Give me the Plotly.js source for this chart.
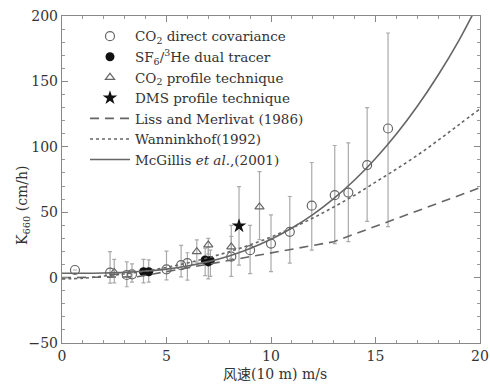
<!DOCTYPE html>
<html>
<head>
<meta charset="utf-8">
<script src="https://cdn.plot.ly/plotly-3.0.1.min.js"></script>
<style>html,body{margin:0;padding:0;background:#fff;}#chart{width:490px;height:385px;}</style>
</head>
<body>
<div id="chart"></div>
<script>
// CO2 direct covariance (open circles)
var covU    = [0.62, 2.3, 3.1, 3.35, 5.0, 5.7, 6.0, 8.1, 9.0, 10.0, 10.9, 11.95, 13.05, 13.7, 14.6, 15.6];
var covK    = [5.8, 3.8, 2.0, 2.5, 6.3, 9.6, 11, 16, 21, 26, 35, 55, 63, 65, 86, 114];
var covErrP = [0, 16, 10, 8, 14, 15, 8, 24, 19, 22, 27, 33, 38, 38, 44, 73];
var covErrM = [0, 8, 9, 6, 8, 9, 13, 15, 18, 21.5, 24, 34, 37, 37.5, 43, 75];
// SF6/3He dual tracer (filled circles)
var sfU    = [3.9, 4.15, 6.85, 7.0, 7.1];
var sfK    = [4.5, 4.5, 13.5, 12, 13];
var sfErrP = [9.5, 9, 9, 11, 8];
var sfErrM = [8.5, 8, 12, 13, 12];
// CO2 profile technique (open triangles)
var profU    = [2.5, 6.45, 7.0, 8.1, 9.45];
var profK    = [4, 19.8, 25, 23.5, 54];
var profErrP = [10, 9, 5, 8, 27];
var profErrM = [8, 8, 7, 9, 25];
// DMS profile technique (star)
var dmsU    = [8.47];
var dmsK    = [39.5];
var dmsErrP = [30];
var dmsErrM = [30];
// Liss and Merlivat (1986) (dashed)
var lmU = [0, 3.6, 13, 20];
var lmK = [0, 0.6, 27.4, 68.7];
// Wanninkhof (1992) (dotted)
var wU = [0, 1, 2, 3, 4, 5, 6, 7, 8, 9, 10, 11, 12, 13, 14, 15, 16, 17, 18, 19, 20];
var wK = [-1, -0.5, 1.2, 2.8, 5, 7.8, 11.2, 15.2, 19.8, 25.1, 31, 38, 45.5, 54, 63, 73, 83, 93.5, 105, 117, 129];
// McGillis et al. (2001) (solid)
var mU = [0, 1, 2, 3, 4, 5, 6, 7, 8, 9, 10, 11, 12, 13, 14, 15, 16, 17, 18, 19, 19.9];
var mK = [3.3, 3.3, 3.5, 4.0, 5.0, 6.5, 8.9, 12.2, 16.6, 22.3, 29.3, 37.9, 48.2, 60.4, 74.6, 91.1, 109.8, 131.0, 154.9, 181.6, 209];

var serif = 'DejaVu Serif';
var gray = '#666';
var ebar = function (p, m) {
  return {type: 'data', array: p, arrayminus: m, symmetric: false, color: '#aaa', thickness: 1.2, width: 2};
};

var traces = [
  {x: covU, y: covK, type: 'scatter', mode: 'markers', name: 'CO<sub>2</sub> direct covariance',
   marker: {symbol: 'circle-open', size: 9, color: gray, line: {width: 1.2, color: gray}},
   error_y: ebar(covErrP, covErrM)},
  {x: sfU, y: sfK, type: 'scatter', mode: 'markers', name: 'SF<sub>6</sub>/<sup>3</sup>He dual tracer',
   marker: {symbol: 'circle', size: 9, color: '#111'},
   error_y: ebar(sfErrP, sfErrM)},
  {x: profU, y: profK, type: 'scatter', mode: 'markers', name: 'CO<sub>2</sub> profile technique',
   marker: {symbol: 'triangle-up-open', size: 8, color: gray, line: {width: 1.2, color: gray}},
   error_y: ebar(profErrP, profErrM)},
  {x: dmsU, y: dmsK, type: 'scatter', mode: 'markers', name: 'DMS profile technique',
   marker: {symbol: 'star', size: 11, color: '#111'},
   error_y: ebar(dmsErrP, dmsErrM)},
  {x: lmU, y: lmK, type: 'scatter', mode: 'lines', name: 'Liss and Merlivat (1986)',
   line: {color: '#666', width: 1.6, dash: '9px,6px'}},
  {x: wU, y: wK, type: 'scatter', mode: 'lines', name: 'Wanninkhof(1992)',
   line: {color: '#666', width: 1.6, dash: 'dot', shape: 'spline'}},
  {x: mU, y: mK, type: 'scatter', mode: 'lines', name: 'McGillis <i>et al.</i>,(2001)',
   line: {color: '#666', width: 1.6, shape: 'spline'}}
];

var axisCommon = {
  showgrid: false, zeroline: false, showline: true, linecolor: '#888', linewidth: 1.2,
  mirror: 'allticks', ticks: 'inside', ticklen: 6, tickcolor: '#888', tickwidth: 1,
  tickfont: {family: serif, size: 14, color: '#333'}
};

var layout = {
  width: 490, height: 385,
  margin: {l: 62, r: 10, t: 16, b: 42},
  paper_bgcolor: '#fff', plot_bgcolor: '#fff',
  font: {family: serif},
  showlegend: true,
  legend: {x: 0.055, y: 0.985, xanchor: 'left', yanchor: 'top', bgcolor: 'rgba(0,0,0,0)',
           font: {family: serif, size: 13.5, color: '#333'}, tracegroupgap: 0, itemwidth: 40},
  xaxis: Object.assign({}, axisCommon, {range: [0, 20], dtick: 5, tick0: 0,
          minor: {dtick: 1, ticks: 'inside', ticklen: 3, tickcolor: '#999'}}),
  yaxis: Object.assign({}, axisCommon, {range: [-50, 200], dtick: 50, tick0: 0,
          minor: {dtick: 10, ticks: 'inside', ticklen: 3, tickcolor: '#999'}}),
  annotations: [
    {text: '风速(10 m) m/s', xref: 'paper', yref: 'paper', x: 0.51, y: -0.095, yanchor: 'middle',
     showarrow: false, font: {family: 'DejaVu Serif, Noto Sans CJK SC', size: 14, color: '#333'}},
    {text: 'K<sub>660</sub> (cm/h)', xref: 'paper', yref: 'paper', x: -0.095, xanchor: 'center', y: 0.42,
     textangle: -90, showarrow: false, font: {family: serif, size: 14, color: '#333'}}
  ]
};

Plotly.newPlot('chart', traces, layout, {staticPlot: true, displayModeBar: false});
</script>
</body>
</html>
